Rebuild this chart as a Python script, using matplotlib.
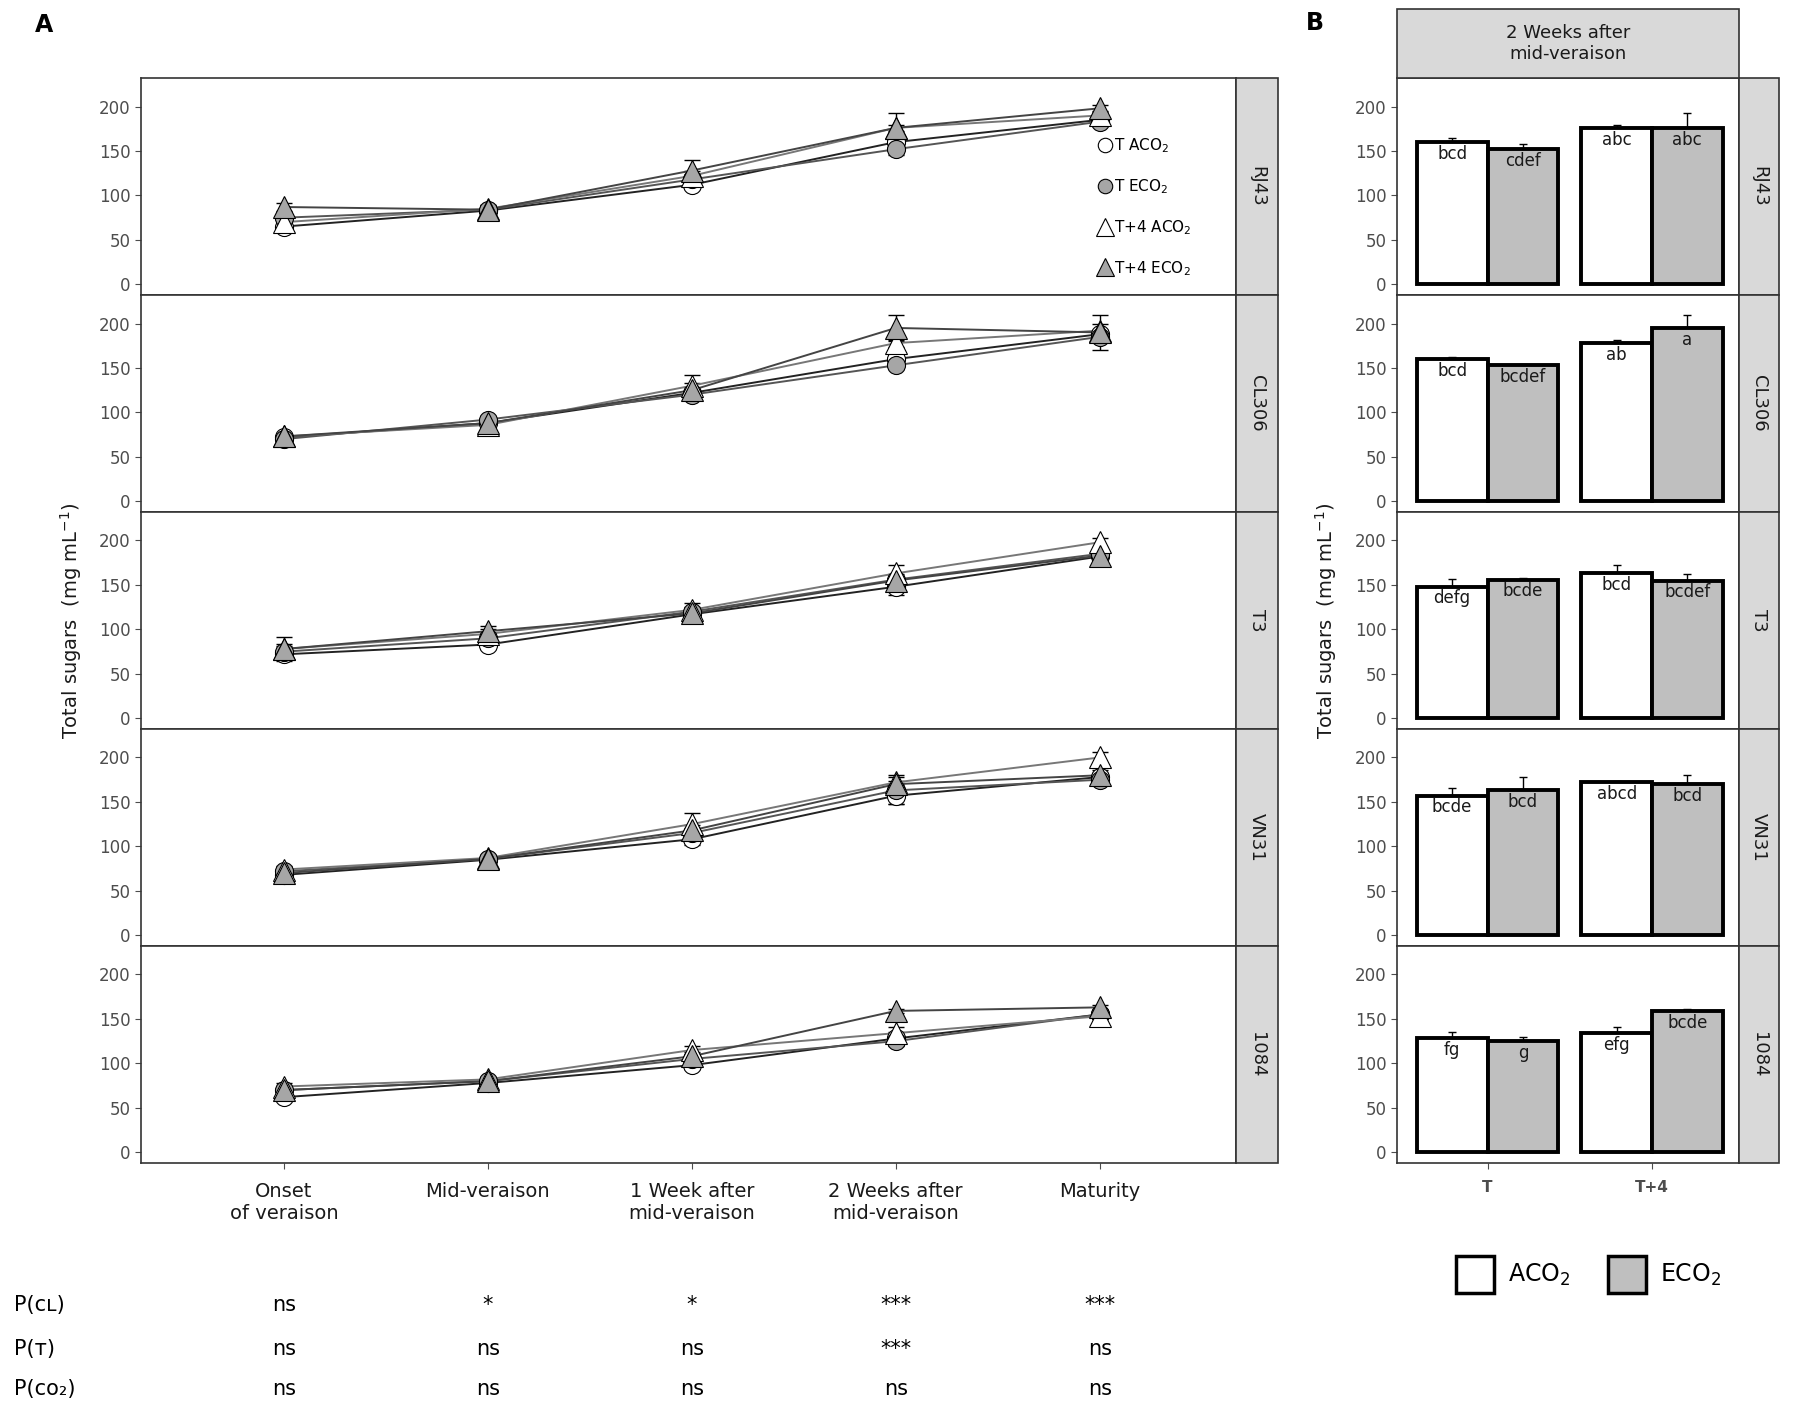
import numpy as np
import matplotlib
matplotlib.use("Agg")
from matplotlib import pyplot as plt
from matplotlib.patches import Patch, Rectangle
import matplotlib.transforms as mtransforms

plt.rcParams['font.family'] = ['DejaVu Sans']

# data
stages = ['Onset\nof veraison', 'Mid-veraison', '1 Week after\nmid-veraison',
          '2 Weeks after\nmid-veraison', 'Maturity']
clones = ['RJ43', 'CL306', 'T3', 'VN31', '1084']

# total sugars per clone (rows) and stage (cols)
t_aco2 = [[65, 83, 112, 160, 185],
          [72, 88, 122, 160, 188],
          [72, 83, 117, 148, 182],
          [68, 85, 108, 157, 178],
          [62, 78, 98, 128, 155]]
t_eco2 = [[75, 84, 118, 152, 183],
          [70, 92, 120, 153, 185],
          [75, 90, 120, 156, 185],
          [72, 86, 115, 163, 175],
          [70, 80, 105, 125, 155]]
t4_aco2 = [[70, 85, 122, 176, 190],
           [73, 86, 130, 178, 192],
           [78, 95, 122, 163, 198],
           [74, 87, 125, 172, 200],
           [74, 82, 115, 134, 153]]
t4_eco2 = [[87, 84, 128, 176, 198],
           [73, 88, 125, 195, 190],
           [78, 98, 118, 155, 183],
           [70, 86, 118, 170, 180],
           [70, 80, 108, 159, 163]]

t_aco2_err = [[4, 3, 4, 5, 4], [3, 3, 4, 2, 5], [5, 5, 4, 9, 4], [4, 2, 6, 9, 4], [3, 2, 4, 7, 3]]
t_eco2_err = [[4, 3, 5, 6, 4], [3, 4, 5, 2, 5], [6, 6, 5, 2, 5], [4, 2, 5, 15, 4], [3, 3, 4, 5, 3]]
t4_aco2_err = [[5, 4, 6, 3, 5], [3, 4, 12, 4, 8], [14, 6, 8, 9, 5], [4, 3, 12, 2, 6], [4, 3, 5, 7, 3]]
t4_eco2_err = [[4, 5, 12, 17, 4], [3, 4, 8, 15, 20], [6, 6, 6, 7, 5], [4, 3, 6, 10, 6], [4, 3, 5, 2, 3]]

# panel B: 2 weeks after mid-veraison
temps = ['T', 'T+4']
bar_aco2 = [[160, 176], [160, 178], [148, 163], [157, 172], [128, 134]]
bar_eco2 = [[152, 176], [153, 195], [156, 155], [163, 170], [125, 159]]
bar_aco2_err = [[5, 3], [2, 4], [9, 9], [9, 2], [7, 7]]
bar_eco2_err = [[6, 17], [2, 15], [2, 7], [15, 10], [5, 2]]
letters_aco2 = [['bcd', 'abc'], ['bcd', 'ab'], ['defg', 'bcd'], ['bcde', 'abcd'], ['fg', 'efg']]
letters_eco2 = [['cdef', 'abc'], ['bcdef', 'a'], ['bcde', 'bcdef'], ['bcd', 'bcd'], ['g', 'bcde']]

p_rows = ['P(ᴄʟ)', 'P(ᴛ)', 'P(ᴄᴏ₂)']
p_cl = ['ns', '*', '*', '***', '***']
p_t = ['ns', 'ns', 'ns', '***', 'ns']
p_co2 = ['ns', 'ns', 'ns', 'ns', 'ns']

series = [
    ('T ACO$_2$', t_aco2, t_aco2_err, 'o', 'white', '#222222'),
    ('T ECO$_2$', t_eco2, t_eco2_err, 'o', '#a6a6a6', '#555555'),
    ('T+4 ACO$_2$', t4_aco2, t4_aco2_err, '^', 'white', '#777777'),
    ('T+4 ECO$_2$', t4_eco2, t4_eco2_err, '^', '#a6a6a6', '#444444'),
]

fig = plt.figure(figsize=(18, 14.19), dpi=100)

W, H = 1568.0, 1236.0
def fx(x):
    return x / W
def fy(y):
    return 1 - y / H

tick_col = '#4d4d4d'
strip_col = '#d9d9d9'

row_top = 68
row_h = 189
xpos = np.arange(1, 6)

def add_strip(x0, x1, y0, y1, text, rot):
    r = Rectangle((fx(x0), fy(y1)), fx(x1) - fx(x0), fy(y0) - fy(y1),
                  transform=fig.transFigure, facecolor=strip_col,
                  edgecolor='#333333', lw=1.2)
    fig.patches.append(r)
    fig.text((fx(x0) + fx(x1)) / 2, (fy(y0) + fy(y1)) / 2, text, rotation=rot,
             ha='center', va='center', fontsize=13, color='#1a1a1a')

axA = []
axB = []
for i, clone in enumerate(clones):
    y0 = row_top + i * row_h
    y1 = y0 + row_h
    ax = fig.add_axes([fx(123), fy(y1), fx(1077) - fx(123), fy(y0) - fy(y1)])
    for name, vals, errs, mk, fc, lc in series:
        v = np.array(vals[i])
        e = np.array(errs[i])
        ax.errorbar(xpos, v, yerr=e, fmt='none', ecolor='black', elinewidth=1.0,
                    capsize=6, capthick=1.0, zorder=2)
        ax.plot(xpos, v, color=lc, lw=1.4, zorder=3)
        ax.plot(xpos, v, linestyle='none', marker=mk, markersize=13 if mk == 'o' else 16,
                markerfacecolor=fc, markeredgecolor='black', markeredgewidth=0.8, zorder=4,
                label=name)
    ax.set_xlim(0.3, 5.67)
    ax.set_ylim(-12, 232)
    ax.set_yticks([0, 50, 100, 150, 200])
    ax.tick_params(axis='y', colors=tick_col, labelsize=12, length=4)
    ax.tick_params(axis='x', colors=tick_col, length=4)
    for s in ax.spines.values():
        s.set_color('#333333')
        s.set_linewidth(1.2)
    ax.set_xticks(xpos)
    if i < 4:
        ax.set_xticklabels([])
        ax.tick_params(axis='x', length=0)
    else:
        ax.set_xticklabels(stages, fontsize=14, color='#1a1a1a')
        ax.tick_params(axis='x', pad=10)
    add_strip(1077, 1113, y0, y1, clone, -90)
    axA.append(ax)

    # panel B
    bx = fig.add_axes([fx(1217), fy(y1), fx(1515) - fx(1217), fy(y0) - fy(y1)])
    gx = np.arange(1, 3)
    w = 0.43
    bx.bar(gx - w / 2, bar_aco2[i], width=w, facecolor='white', edgecolor='black', lw=2.8, zorder=3)
    bx.bar(gx + w / 2, bar_eco2[i], width=w, facecolor='#bfbfbf', edgecolor='black', lw=2.8, zorder=3)
    bx.errorbar(gx - w / 2, bar_aco2[i], yerr=[[0, 0], bar_aco2_err[i]], fmt='none',
                ecolor='black', elinewidth=1.0, capsize=3, zorder=2)
    bx.errorbar(gx + w / 2, bar_eco2[i], yerr=[[0, 0], bar_eco2_err[i]], fmt='none',
                ecolor='black', elinewidth=1.0, capsize=3, zorder=2)
    for j in range(2):
        bx.text(gx[j] - w / 2, bar_aco2[i][j] - 3, letters_aco2[i][j], ha='center', va='top',
                fontsize=12, color='#1a1a1a', zorder=5)
        bx.text(gx[j] + w / 2, bar_eco2[i][j] - 3, letters_eco2[i][j], ha='center', va='top',
                fontsize=12, color='#1a1a1a', zorder=5)
    bx.set_xlim(0.45, 2.53)
    bx.set_ylim(-12, 232)
    bx.set_yticks([0, 50, 100, 150, 200])
    bx.tick_params(axis='y', colors=tick_col, labelsize=12, length=4)
    for s in bx.spines.values():
        s.set_color('#333333')
        s.set_linewidth(1.2)
    bx.set_xticks(gx)
    if i < 4:
        bx.set_xticklabels([])
        bx.tick_params(axis='x', length=0)
    else:
        bx.set_xticklabels(temps, fontsize=11, fontweight='bold', color='#1a1a1a')
        bx.tick_params(axis='x', colors=tick_col, length=4, pad=8)
    add_strip(1515, 1550, y0, y1, clone, -90)
    axB.append(bx)

# top strip panel B
add_strip(1217, 1515, 8, 68, '2 Weeks after\nmid-veraison', 0)

# legend A
axA[0].legend(loc='upper right', bbox_to_anchor=(0.965, 0.76), frameon=False, fontsize=11,
              labelspacing=1.45, handletextpad=0.1, handlelength=1.0, borderaxespad=0,
              markerscale=0.8)

# legend B
handles = [Patch(facecolor='white', edgecolor='black', lw=2.5, label='ACO$_2$'),
           Patch(facecolor='#bfbfbf', edgecolor='black', lw=2.5, label='ECO$_2$')]
fig.legend(handles=handles, loc='center', bbox_to_anchor=(fx(1384), fy(1110)), ncol=2,
           frameon=False, fontsize=17, handlelength=1.6, handleheight=2.0,
           handletextpad=0.6, columnspacing=1.6)

# y labels
ylab = 'Total sugars  (mg mL$^{-1}$)'
fig.text(fx(62), fy(541), ylab, rotation=90, ha='center', va='center', fontsize=14, color='#1a1a1a')
fig.text(fx(1155), fy(541), ylab, rotation=90, ha='center', va='center', fontsize=14, color='#1a1a1a')

# panel letters
fig.text(fx(38), fy(22), 'A', fontsize=17, fontweight='bold', ha='center', va='center')
fig.text(fx(1145), fy(20), 'B', fontsize=17, fontweight='bold', ha='center', va='center')

# significance rows
trans = mtransforms.blended_transform_factory(axA[-1].transData, fig.transFigure)
for label, vals, yy in zip(p_rows, [p_cl, p_t, p_co2], [1137, 1175, 1210]):
    fig.text(fx(12), fy(yy), label, ha='left', va='center', fontsize=15)
    for k, s in enumerate(vals):
        axA[-1].text(xpos[k], fy(yy), s, transform=trans, ha='center', va='center',
                     fontsize=15, clip_on=False)

fig.savefig('out.png', dpi=100)
